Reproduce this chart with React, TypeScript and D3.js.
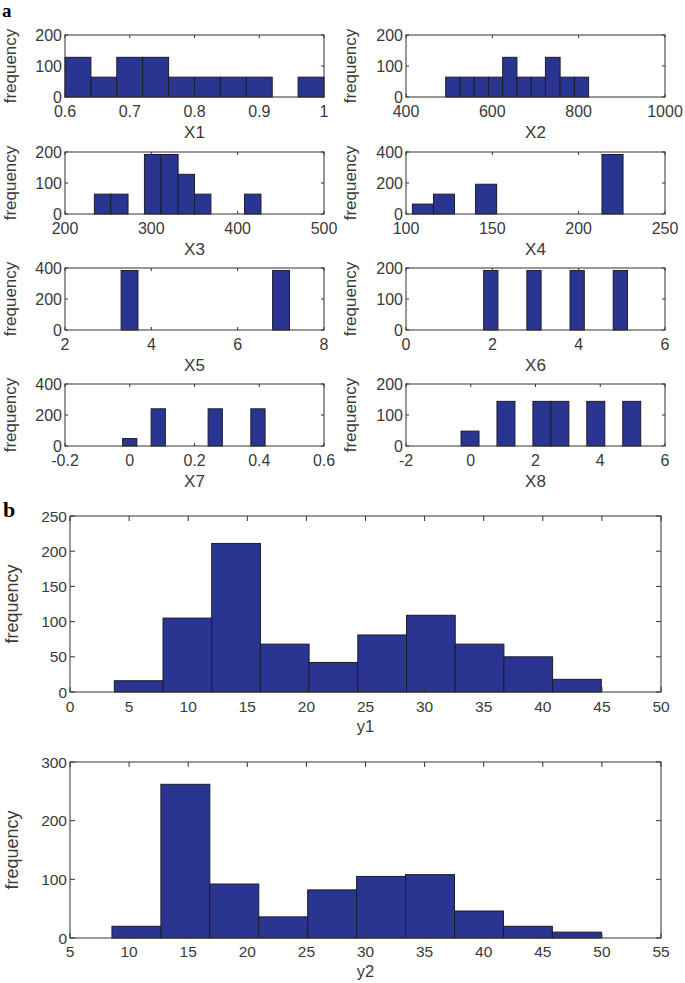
import React from "react";
import * as d3 from "d3";

// ---------- data ----------
const x1Edges = [0.6, 0.64, 0.68, 0.72, 0.76, 0.8, 0.84, 0.88, 0.92, 0.96, 1.0];
const x1Counts = [128, 64, 128, 128, 64, 64, 64, 64, 0, 64];
const x1Ticks = [0.6, 0.7, 0.8, 0.9, 1];

const x2Edges = [492, 525, 558, 591, 624, 657, 690, 723, 757, 790, 823];
const x2Counts = [64, 64, 64, 64, 128, 64, 64, 128, 64, 64];
const x2Ticks = [400, 600, 800, 1000];

const x3Edges = [234, 253, 273, 292, 311, 331, 350, 369, 388, 408, 427];
const x3Counts = [64, 64, 0, 192, 192, 128, 64, 0, 0, 64];
const x3Ticks = [200, 300, 400, 500];

const x4Edges = [103.7, 115.9, 128.1, 140.3, 152.5, 164.7, 176.9, 189.1, 201.3, 213.5, 225.7];
const x4Counts = [64, 128, 0, 192, 0, 0, 0, 0, 0, 384];
const x4Ticks = [100, 150, 200, 250];

const x5Edges = [3.3, 3.69, 4.08, 4.47, 4.86, 5.25, 5.64, 6.03, 6.42, 6.81, 7.2];
const x5Counts = [384, 0, 0, 0, 0, 0, 0, 0, 0, 384];
const x5Ticks = [2, 4, 6, 8];

const x6Edges = [1.8, 2.13, 2.47, 2.8, 3.13, 3.47, 3.8, 4.13, 4.47, 4.8, 5.13];
const x6Counts = [192, 0, 0, 192, 0, 0, 192, 0, 0, 192];
const x6Ticks = [0, 2, 4, 6];

const x7Edges = [-0.022, 0.022, 0.066, 0.11, 0.154, 0.198, 0.242, 0.286, 0.33, 0.374, 0.418];
const x7Counts = [48, 0, 240, 0, 0, 0, 240, 0, 0, 240];
const x7Ticks = [-0.2, 0, 0.2, 0.4, 0.6];

const x8Edges = [-0.3, 0.255, 0.81, 1.365, 1.92, 2.475, 3.03, 3.585, 4.14, 4.695, 5.25];
const x8Counts = [48, 0, 144, 0, 144, 144, 0, 144, 0, 144];
const x8Ticks = [-2, 0, 2, 4, 6];

const y1Edges = [3.75, 7.87, 11.99, 16.11, 20.23, 24.35, 28.47, 32.59, 36.71, 40.83, 44.95];
const y1Counts = [16, 105, 211, 68, 42, 81, 109, 68, 50, 18];
const y1XTicks = [0, 5, 10, 15, 20, 25, 30, 35, 40, 45, 50];
const y1YTicks = [0, 50, 100, 150, 200, 250];

const y2Edges = [8.55, 12.69, 16.83, 20.97, 25.11, 29.25, 33.39, 37.53, 41.67, 45.81, 49.95];
const y2Counts = [20, 262, 92, 36, 82, 105, 108, 46, 20, 10];
const y2XTicks = [5, 10, 15, 20, 25, 30, 35, 40, 45, 50, 55];
const y2YTicks = [0, 100, 200, 300];

const yTicks200 = [0, 100, 200];
const yTicks400 = [0, 200, 400];

const FONT = "'Liberation Sans', Arial, Helvetica, sans-serif";
const BAR_FILL = "#2a3592";
const BAR_STROKE = "#1b1b2b";
const AXIS = "#333333";
const TEXT = "#3a3a3a";

type HistProps = {
  left: number;
  top: number;
  width: number;
  height: number;
  edges: number[];
  counts: number[];
  xTicks: number[];
  yTicks: number[];
  label: string;
  fontSize: number;
  freqSize: number;
  tickLen: number;
  labelGap: number;
  xLabelGap: number;
  yLabelX: number;
};

function Hist(p: HistProps) {
  const xs = d3
    .scaleLinear()
    .domain([p.xTicks[0], p.xTicks[p.xTicks.length - 1]])
    .range([p.left, p.left + p.width]);
  const ys = d3
    .scaleLinear()
    .domain([p.yTicks[0], p.yTicks[p.yTicks.length - 1]])
    .range([p.top + p.height, p.top]);
  const bottom = p.top + p.height;
  const right = p.left + p.width;
  return (
    <g>
      {p.counts.map((c, i) =>
        c > 0 ? (
          <rect
            key={i}
            x={xs(p.edges[i])}
            y={ys(c)}
            width={xs(p.edges[i + 1]) - xs(p.edges[i])}
            height={ys(0) - ys(c)}
            fill={BAR_FILL}
            stroke={BAR_STROKE}
            strokeWidth={1}
          />
        ) : null
      )}
      <rect
        x={p.left}
        y={p.top}
        width={p.width}
        height={p.height}
        fill="none"
        stroke={AXIS}
        strokeWidth={1}
      />
      {p.xTicks.map((t, i) => (
        <g key={"xt" + i}>
          <line x1={xs(t)} x2={xs(t)} y1={bottom} y2={bottom - p.tickLen} stroke={AXIS} />
          <line x1={xs(t)} x2={xs(t)} y1={p.top} y2={p.top + p.tickLen} stroke={AXIS} />
          <text
            x={xs(t)}
            y={bottom + p.labelGap}
            textAnchor="middle"
            fontFamily={FONT}
            fontSize={p.fontSize}
            fill={TEXT}
          >
            {String(t)}
          </text>
        </g>
      ))}
      {p.yTicks.map((t, i) => (
        <g key={"yt" + i}>
          <line x1={p.left} x2={p.left + p.tickLen} y1={ys(t)} y2={ys(t)} stroke={AXIS} />
          <line x1={right} x2={right - p.tickLen} y1={ys(t)} y2={ys(t)} stroke={AXIS} />
          <text
            x={p.left - 3}
            y={ys(t) + p.fontSize * 0.36}
            textAnchor="end"
            fontFamily={FONT}
            fontSize={p.fontSize}
            fill={TEXT}
          >
            {String(t)}
          </text>
        </g>
      ))}
      <text
        x={p.left + p.width / 2}
        y={bottom + p.xLabelGap}
        textAnchor="middle"
        fontFamily={FONT}
        fontSize={p.fontSize + 1}
        fill={TEXT}
      >
        {p.label}
      </text>
      <text
        transform={`translate(${p.yLabelX},${p.top + p.height / 2}) rotate(-90)`}
        textAnchor="middle"
        fontFamily={FONT}
        fontSize={p.freqSize}
        fill={TEXT}
      >
        frequency
      </text>
    </g>
  );
}

export default function App() {
  const W = 685;
  const H = 983;
  const colL = 65;
  const colR = 406;
  const pw = 259;
  const ph = 62;
  const rows = [35, 152, 268, 384];
  const small = { fontSize: 16, freqSize: 17, tickLen: 3, labelGap: 19.5, xLabelGap: 41 };
  const panels = [
    { edges: x1Edges, counts: x1Counts, xTicks: x1Ticks, yTicks: yTicks200, label: "X1" },
    { edges: x2Edges, counts: x2Counts, xTicks: x2Ticks, yTicks: yTicks200, label: "X2" },
    { edges: x3Edges, counts: x3Counts, xTicks: x3Ticks, yTicks: yTicks200, label: "X3" },
    { edges: x4Edges, counts: x4Counts, xTicks: x4Ticks, yTicks: yTicks400, label: "X4" },
    { edges: x5Edges, counts: x5Counts, xTicks: x5Ticks, yTicks: yTicks400, label: "X5" },
    { edges: x6Edges, counts: x6Counts, xTicks: x6Ticks, yTicks: yTicks200, label: "X6" },
    { edges: x7Edges, counts: x7Counts, xTicks: x7Ticks, yTicks: yTicks400, label: "X7" },
    { edges: x8Edges, counts: x8Counts, xTicks: x8Ticks, yTicks: yTicks200, label: "X8" },
  ];
  return (
    <svg
      width={W}
      height={H}
      style={{ position: "absolute", left: 0, top: 0, background: "#fff" }}
    >
      <rect x={0} y={0} width={W} height={H} fill="#fff" />
      <text x={2} y={17} fontFamily="'Liberation Serif', 'Times New Roman', serif" fontWeight="bold" fontSize={19} fill="#000">
        a
      </text>
      {panels.map((p, i) => {
        const col = i % 2;
        const row = Math.floor(i / 2);
        return (
          <Hist
            key={i}
            left={col === 0 ? colL : colR}
            top={rows[row]}
            width={pw}
            height={ph}
            {...p}
            {...small}
            yLabelX={col === 0 ? 16 : 356}
          />
        );
      })}
      <text x={3} y={517} fontFamily="'Liberation Serif', 'Times New Roman', serif" fontWeight="bold" fontSize={22} fill="#000">
        b
      </text>
      <Hist
        left={70}
        top={516}
        width={591}
        height={176}
        edges={y1Edges}
        counts={y1Counts}
        xTicks={y1XTicks}
        yTicks={y1YTicks}
        label="y1"
        fontSize={15.5}
        freqSize={18}
        tickLen={5}
        labelGap={19.5}
        xLabelGap={40}
        yLabelX={18}
      />
      <Hist
        left={70}
        top={762}
        width={591}
        height={176}
        edges={y2Edges}
        counts={y2Counts}
        xTicks={y2XTicks}
        yTicks={y2YTicks}
        label="y2"
        fontSize={15.5}
        freqSize={18}
        tickLen={5}
        labelGap={19}
        xLabelGap={39}
        yLabelX={18}
      />
    </svg>
  );
}
